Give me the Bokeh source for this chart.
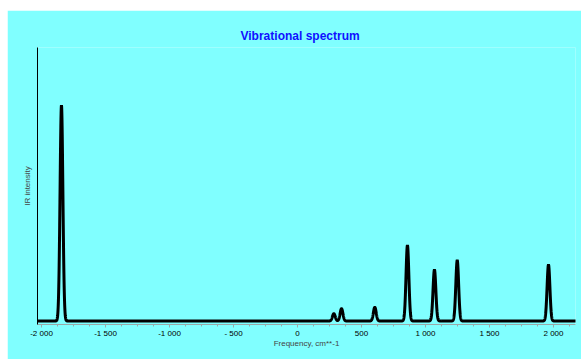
import numpy as np
from bokeh.plotting import figure
from bokeh.models import FixedTicker, Range1d, Spacer
from bokeh.layouts import row, column
from bokeh.embed import file_html
from bokeh.resources import INLINE

# Peak data (frequency cm**-1, relative IR intensity)
peak_freqs = [-1844, 284, 344, 604, 859, 1070, 1248, 1961]
peak_intens = [215.7, 7.3, 12.3, 13.7, 75.7, 51.3, 60.7, 56.3]
peak_sigma = 11.0

major_ticks = [-2000, -1500, -1000, -500, 0, 500, 1000, 1500, 2000]
major_labels = ["-2 000", "-1 500", "-1 000", "- 500", "0", "500", "1 000", "1 500", "2 000"]
minor_ticks = list(range(-2000, 2130, 125))

title_text = "Vibrational spectrum"
x_title = "Frequency, cm**-1"
y_title = "IR intensity"

# Broadened spectrum built from the peak list
freq = np.arange(-2050.0, 2180.0, 1.0)
spec = np.zeros_like(freq)
for f0, a in zip(peak_freqs, peak_intens):
    spec += a * np.exp(-0.5 * ((freq - f0) / peak_sigma) ** 2)

BG = "#80FFFF"
FONT = "Liberation Sans"

p = figure(width=574, height=349, output_backend="svg", toolbar_location=None,
           x_range=Range1d(-2031.25, 2172), y_range=Range1d(-3.5, 273.5),
           background_fill_color=BG, border_fill_color=BG,
           min_border_left=30, min_border_right=6, min_border_top=37, min_border_bottom=35)
p.outline_line_color = None
p.grid.visible = False

p.title.text = title_text
p.title.align = "left"
p.title.offset = 203
p.title.text_font = FONT
p.title.text_font_size = "12px"
p.title.text_font_style = "bold"
p.title.text_color = "#1010ff"

p.line(freq, spec, line_color="black", line_width=3)

xa = p.xaxis[0]
xa.ticker = FixedTicker(ticks=major_ticks, minor_ticks=minor_ticks)
xa.major_label_overrides = {t: l for t, l in zip(major_ticks, major_labels)}
xa.axis_line_color = "#9aa8a8"
xa.major_tick_line_color = "#9aa8a8"
xa.minor_tick_line_color = "#9aa8a8"
xa.major_tick_in = 0
xa.major_tick_out = 3
xa.minor_tick_in = 0
xa.minor_tick_out = 2
xa.major_label_standoff = 1
xa.major_label_text_font = FONT
xa.major_label_text_font_size = "8px"
xa.major_label_text_color = "black"
xa.axis_label = x_title
xa.axis_label_text_font = FONT
xa.axis_label_text_font_size = "8px"
xa.axis_label_text_font_style = "normal"
xa.axis_label_standoff = -2

ya = p.yaxis[0]
ya.ticker = FixedTicker(ticks=[])
ya.major_tick_out = 0
ya.minor_tick_out = 0
ya.major_label_standoff = 0
ya.axis_line_color = "black"
ya.axis_line_width = 1
ya.axis_label = y_title
ya.axis_label_text_font = FONT
ya.axis_label_text_font_size = "8px"
ya.axis_label_text_font_style = "normal"
ya.axis_label_standoff = 6

layout = row(Spacer(width=7, height=359), column(Spacer(width=574, height=10), p))

open("out.html", "w").write(file_html(layout, INLINE))
